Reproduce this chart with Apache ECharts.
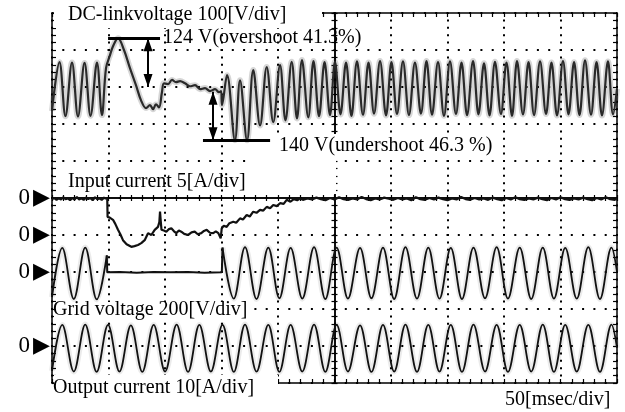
<!DOCTYPE html>
<html><head><meta charset="utf-8">
<script src="https://cdn.jsdelivr.net/npm/echarts@6/dist/echarts.min.js"></script>
<style>html,body{margin:0;padding:0;background:#fff}#c{width:625px;height:412px}</style>
</head><body><div id="c"></div>
<script>
// x: time in ms (50 ms/div, 10 div); y: screen divisions (0 = bottom edge, 10 = top edge)
const dcLink = [
  [0,7.35],[6.6,8.67],[11.9,7.21],[17.7,8.66],[23.0,7.20],[28.8,8.65],[34.1,7.22],[39.8,8.66],[44.2,7.24],
  [47.8,8.51],[51.3,8.86],[54.0,9.10],[58.4,9.32],[63.7,9.00],[69.0,8.51],[74.3,8.05],[78.8,7.64],[83.2,7.43],
  [86.7,7.51],[89.4,7.40],[92.0,7.53],[94.7,7.45],[97.3,7.86],[99.1,8.10],[102.7,8.08],[106.2,8.19],[109.7,8.13],
  [113.3,8.16],[117.7,8.10],[122.1,8.02],[126.6,8.05],[131.0,7.94],[135.4,7.97],[139.8,7.89],[144.3,7.94],
  [147.8,7.86],[149.6,7.89],[150.4,7.51],[154.9,8.32],[161.9,6.56],[166.4,8.18],[172.6,6.56],[178.1,8.46],
  [184.1,6.96],[190.0,8.54],[195.8,7.05],[201.8,8.59],[206.6,7.10],[212.1,8.68],[216.8,7.15],[221.2,8.73],
  [226.8,7.18],[231.4,8.70],[236.3,7.21],[241.2,8.67],[246.0,7.24],[250.4,8.68],
  [255.3,7.26],[260.2,8.66],[265.0,7.22],[269.9,8.69],[275.2,7.25],[280.1,8.66],[285.0,7.28],[290.3,8.70],
  [295.6,7.23],[300.4,8.67],[305.3,7.27],[310.6,8.69],[315.9,7.24],[321.2,8.66],[326.5,7.28],[331.4,8.70],
  [336.3,7.25],[341.6,8.67],[346.9,7.22],[352.2,8.69],[357.5,7.27],[362.4,8.66],[367.3,7.24],[372.6,8.70],
  [377.4,7.26],[382.3,8.64],[387.2,7.23],[392.0,8.68],[397.3,7.27],[402.2,8.66],[407.1,7.22],[411.5,8.70],
  [416.8,7.26],[421.7,8.67],[426.6,7.24],[431.9,8.69],[437.2,7.27],[442.0,8.66],[446.9,7.23],[452.2,8.70],
  [457.1,7.26],[462.0,8.67],[466.8,7.24],[471.7,8.72],[477.0,7.25],[481.9,8.67],[486.7,7.23],[492.0,8.69],
  [496.5,7.26],[500,7.95]
];
const inputCurrent = [
  [0,4.97],[2,5.00],[4,4.95],[6,4.99],[8,4.96],[10,5.02],[12,4.97],[14,4.99],[16,4.94],[18,5.00],[20,4.96],
  [22,5.03],[24,4.96],[26,4.99],[28,4.95],[30,5.01],[32,4.97],[34,5.00],[36,4.94],[38,5.02],[40,4.97],[42,4.99],
  [44,4.95],[46,5.01],[48.9,4.97],
  [49.2,4.49],[51.1,4.47],[52.5,4.52],[54.0,4.41],[56,4.30],[58.4,4.14],[60.5,4.02],[62.8,3.86],[66,3.75],
  [70.2,3.68],[73,3.70],[76.1,3.73],[79,3.78],[82.0,3.86],[85.0,4.05],[87.9,4.00],[90.9,4.14],[93.8,4.22],
  [95.0,4.35],[95.6,4.63],[96.3,4.35],[96.9,4.14],[99,4.12],[101.2,4.09],[103.5,4.16],[105.6,4.18],[108,4.10],
  [110.0,4.05],[112.3,4.12],[114.4,4.09],[117,4.03],[120.4,4.00],[123.5,4.07],[126.3,4.09],[129,4.02],
  [132.1,4.05],[134.5,4.11],[136.9,4.14],[139.8,4.06],[142.7,4.05],[145,4.10],[147.2,4.05],[149.3,3.91],
  [150.2,4.18],[152,4.25],[154.6,4.22],[157,4.32],[160.4,4.36],[163,4.33],[166.4,4.45],[169,4.42],[172.3,4.54],
  [175,4.50],[178.1,4.63],[181,4.60],[184.1,4.68],[187,4.66],[190.0,4.76],[193,4.72],[195.8,4.81],[199,4.78],
  [201.8,4.86],[205,4.84],[207.7,4.95],[211,4.90],[214,4.97],[217,4.94],[219.5,4.99],
  [222,4.95],[226,4.99],[230,4.96],[234,5.01],[238,4.97],[242,4.94],[246,5.00],[250,4.96],[254,5.02],[258,4.97],
  [262,4.95],[266,4.99],[270,4.96],[274,5.03],[278,4.97],[282,4.94],[286,4.99],[290,4.96],[294,5.01],[298,4.98],
  [302,4.95],[306,5.00],[310,4.96],[314,4.99],[318,4.94],[322,5.02],[326,4.97],[330,4.95],[334,5.00],[338,4.96],
  [342,5.01],[346,4.97],[350,4.94],[354,4.99],[358,4.96],[362,5.03],[366,4.97],[370,4.95],[374,5.00],[378,4.96],
  [382,4.99],[386,4.95],[390,5.01],[394,4.97],[398,4.94],[402,5.00],[406,4.96],[410,5.02],[414,4.97],[418,4.95],
  [422,4.99],[426,4.96],[430,5.01],[434,4.97],[438,4.94],[442,5.00],[446,4.96],[450,5.02],[454,4.97],[458,4.95],
  [462,4.99],[466,4.96],[470,5.01],[474,4.97],[478,4.94],[482,5.00],[486,4.96],[490,5.02],[494,4.97],[498,4.95],
  [500,4.98]
];
const gridLeft = [[0,2.32],[9.1,3.65],[19.3,2.27],[29.4,3.66],[39.6,2.26],[48.5,3.45]];
const gridFlat = [[48.5,3.45],[48.9,2.99],[60,3.00],[75,2.98],[90,3.00],[105,2.99],[120,3.00],[135,2.98],[150.3,2.99],[150.9,3.66]];
const gridRight = [
  [150.9,3.66],[160.9,2.28],[170.8,3.67],[181.0,2.27],[191.4,3.66],[201.2,2.29],[211.2,3.65],[221.5,2.28],
  [231.9,3.67],[241.9,2.27],[251.9,3.66],[261.9,2.28],[272.6,3.65],[282.7,2.29],[292.9,3.66],[302.8,2.27],
  [312.8,3.67],[323.0,2.28],[333.0,3.66],[342.9,2.28],[352.9,3.65],[362.8,2.27],[373.0,3.66],[383.2,2.29],
  [393.5,3.67],[403.5,2.28],[413.9,3.66],[424.1,2.27],[434.3,3.66],[444.2,2.28],[454.2,3.65],[464.4,2.28],
  [474.6,3.67],[484.9,2.27],[495.1,3.66],[500,3.00]
];
const outputCurrent = [
  [0,0.33],[9.1,1.57],[19.3,0.31],[29.4,1.58],[39.5,0.30],[49.6,1.57],[59.7,0.31],[69.8,1.56],[79.9,0.30],
  [90.0,1.57],[100.1,0.31],[110.3,1.58],[120.4,0.30],[130.4,1.57],[140.6,0.31],[150.9,1.57],[160.9,0.30],
  [170.8,1.58],[181.0,0.31],[191.4,1.57],[201.2,0.30],[211.2,1.57],[221.5,0.31],[231.9,1.58],[241.9,0.30],
  [251.9,1.57],[261.9,0.31],[272.6,1.56],[282.7,0.30],[292.9,1.57],[302.8,0.31],[312.8,1.58],[323.0,0.30],
  [333.0,1.57],[342.9,0.31],[352.9,1.57],[362.8,0.30],[373.0,1.58],[383.2,0.31],[393.5,1.57],[403.5,0.30],
  [413.9,1.57],[424.1,0.31],[434.3,1.58],[444.2,0.30],[454.2,1.57],[464.4,0.31],[474.6,1.57],[484.9,0.30],
  [495.1,1.58],[500,0.95]
];
const zeroMarks = [5, 4, 3, 1];          // divisions where the "0 ▶" channel markers sit
const dcNominal = 8;                     // DC-link reference level (div)
const dcBeforeRestart = 7.87;            // DC-link level just before the ripple restarts (div)
const overshootSpan = [49.6, 95.6];      // ms
const overshootArrowAt = 85;             // ms
const undershootSpan = [133.6, 193];     // ms
const undershootArrowAt = 142.5;         // ms
const texts = {
  title: 'DC-linkvoltage 100[V/div]',
  over: '124 V(overshoot 41.3%)',
  under: '140 V(undershoot 46.3 %)',
  input: 'Input current 5[A/div]',
  grid: 'Grid voltage 200[V/div]',
  output: 'Output current 10[A/div]',
  time: '50[msec/div]'
};

const dcMax = Math.max(...dcLink.map(p => p[1]));
const dcMin = Math.min(...dcLink.map(p => p[1]));

const BLACK = '#000';
const SERIF = '"Liberation Serif", "Times New Roman", serif';
const gridBox = {left: 52, right: 8, top: 13, bottom: 29, show: false, outerBoundsMode: 'none', containLabel: false};

function frameX(idx, pos, grid) {
  return {
    gridIndex: grid, type: 'value', min: 0, max: 500, interval: 50, position: pos,
    axisLine: {show: true, onZero: false, lineStyle: {color: BLACK, width: 1.5}},
    axisTick: {show: true, inside: true, length: 4, lineStyle: {color: BLACK, width: 1.2}},
    minorTick: {show: true, splitNumber: 5, length: 4, lineStyle: {color: BLACK, width: 1.2}},
    axisLabel: {show: false},
    splitLine: {show: idx === 0, lineStyle: {color: BLACK, width: 2, type: [2, 5.4], dashOffset: 1}},
    minorSplitLine: {show: false}
  };
}
function frameY(idx, pos, grid) {
  return {
    gridIndex: grid, type: 'value', min: 0, max: 10, interval: 1, position: pos,
    axisLine: {show: true, onZero: false, lineStyle: {color: BLACK, width: 1.5}},
    axisTick: {show: true, inside: true, length: 4, lineStyle: {color: BLACK, width: 1.2}},
    minorTick: {show: true, splitNumber: 5, length: 4, lineStyle: {color: BLACK, width: 1.2}},
    axisLabel: idx === 0 ? {
      show: true, margin: 2,
      formatter: v => zeroMarks.indexOf(Math.round(v)) >= 0 && Math.abs(v - Math.round(v)) < 1e-6 ? '{z|0}{t|▶}' : '',
      rich: {
        z: {fontFamily: SERIF, fontSize: 23, color: BLACK, padding: [0, 3, 0, 0]},
        t: {fontFamily: 'DejaVu Sans', fontSize: 22, color: BLACK}
      }
    } : {show: false},
    splitLine: {show: idx === 0, lineStyle: {color: BLACK, width: 2, type: [2, 9.3], dashOffset: 1}},
    minorSplitLine: {show: false}
  };
}
function crossX(grid, inside) {
  return {
    gridIndex: grid, type: 'value', min: -250, max: 250, interval: 50,
    axisLine: {show: true, onZero: true, lineStyle: {color: BLACK, width: 1.5}},
    axisTick: {show: true, inside: inside, length: 3, lineStyle: {color: BLACK, width: 1.2}},
    minorTick: {show: true, splitNumber: 5, length: 3, lineStyle: {color: BLACK, width: 1.2}},
    axisLabel: {show: false}, splitLine: {show: false}
  };
}
function crossY(grid, inside) {
  return {
    gridIndex: grid, type: 'value', min: -5, max: 5, interval: 1,
    axisLine: {show: true, onZero: true, lineStyle: {color: BLACK, width: 1.5}},
    axisTick: {show: true, inside: inside, length: 3, lineStyle: {color: BLACK, width: 1.2}},
    minorTick: {show: true, splitNumber: 5, length: 3, lineStyle: {color: BLACK, width: 1.2}},
    axisLabel: {show: false}, splitLine: {show: false}
  };
}

function trace(data, opts) {
  return Object.assign({
    type: 'line', data: data, xAxisIndex: 0, yAxisIndex: 0, symbol: 'none',
    silent: true, animation: false, z: 3
  }, opts);
}
const ghost = (data, smooth, w, a) => trace(data, {smooth: smooth, z: 2, lineStyle: {color: 'rgba(0,0,0,' + a + ')', width: w}});

// arrow head whose tip sits exactly at the line end (box extended symmetric about the tip)
const ARROW = 'path://M0,0L5,12L-5,12ZM-5,-12L-4.99,-12.01';
function seg(p1, p2, width, arrows) {
  const s = arrows ? {symbol: ARROW, symbolSize: [9, 26]} : {symbol: 'none'};
  return [Object.assign({coord: p1}, s), Object.assign({coord: p2, lineStyle: {color: BLACK, width: width, type: 'solid'}}, s)];
}

const series = [
  ghost(dcLink, 0.36, 6, 0.16),
  ghost(gridLeft, 0.36, 6, 0.08), ghost(gridRight, 0.36, 6, 0.08), ghost(outputCurrent, 0.36, 6, 0.08),
  trace(dcLink, {smooth: 0.36, lineStyle: {color: '#2a2a2a', width: 2.2},
    markLine: {
      silent: true, animation: false, symbol: 'none', label: {show: false},
      lineStyle: {color: BLACK, width: 3, type: 'solid'},
      data: [
        seg([overshootSpan[0], dcMax], [overshootSpan[1], dcMax], 3, false),
        seg([overshootArrowAt, dcMax], [overshootArrowAt, dcNominal], 2, true),
        seg([undershootSpan[0], dcMin], [undershootSpan[1], dcMin], 3, false),
        seg([undershootArrowAt, dcBeforeRestart], [undershootArrowAt, dcMin], 2, true)
      ]
    }}),
  trace(inputCurrent, {smooth: false, lineStyle: {color: '#111', width: 2.2}}),
  trace(gridLeft, {smooth: 0.36, lineStyle: {color: '#111', width: 1.8}}),
  trace(gridFlat, {smooth: false, lineStyle: {color: '#111', width: 2}}),
  trace(gridRight, {smooth: 0.36, lineStyle: {color: '#111', width: 1.8}}),
  trace(outputCurrent, {smooth: 0.36, lineStyle: {color: '#111', width: 1.8}})
];

const patch = (x, y, w, h) => ({type: 'rect', shape: {x, y, width: w, height: h}, style: {fill: '#fff'}, z: 1, silent: true});
const label = (t, x, y) => ({type: 'text', x: x, y: y, z: 10, silent: true,
  style: {text: t, font: '20px ' + SERIF, fill: BLACK, verticalAlign: 'middle', textVerticalAlign: 'middle'}});

const chart = echarts.init(document.getElementById('c'), null, {renderer: 'canvas'});
chart.setOption({
  backgroundColor: '#fff',
  animation: false,
  grid: [gridBox, gridBox, gridBox],
  xAxis: [frameX(0, 'bottom', 0), frameX(1, 'top', 0), crossX(1, false), crossX(2, true)],
  yAxis: [frameY(0, 'left', 0), frameY(1, 'right', 0), crossY(1, false), crossY(2, true)],
  series: series,
  graphic: {elements: [
    patch(54, 0, 268, 28),
    patch(248, 143, 88, 51),
    patch(272, 134, 225, 24),
    patch(54, 302, 196, 19),
    patch(54, 375, 224, 37),
    label(texts.title, 68, 15),
    label(texts.over, 163, 38),
    label(texts.under, 279, 146),
    label(texts.input, 68, 182),
    label(texts.grid, 53, 310),
    label(texts.output, 53, 388),
    label(texts.time, 505, 400)
  ]}
});
</script></body></html>
